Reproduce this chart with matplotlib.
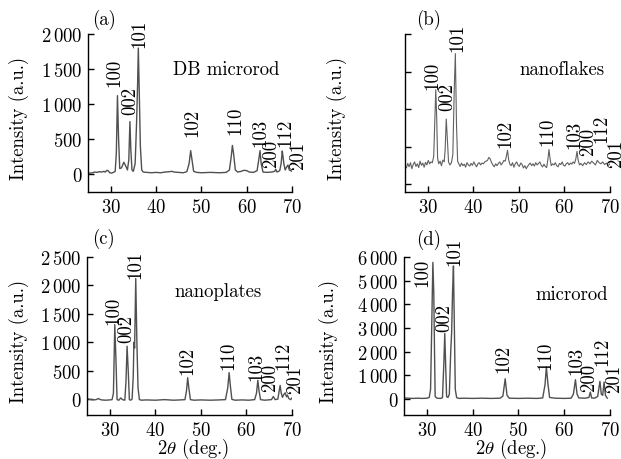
import matplotlib
matplotlib.use("Agg")
import matplotlib.pyplot as plt

plt.rcParams["font.family"] = "serif"
plt.rcParams["font.serif"] = ["cmr10", "DejaVu Serif"]
plt.rcParams["mathtext.fontset"] = "cm"
plt.rcParams["axes.unicode_minus"] = False
plt.rcParams["axes.formatter.use_mathtext"] = True

# (a) DB microrod
two_theta_a = [25.0, 25.5, 26.0, 26.5, 27.0, 27.5, 28.0, 28.5, 28.8, 29.2, 29.5, 29.8, 30.2, 30.6, 31.0,
               31.25, 31.5, 31.75, 32.0, 32.4, 32.9, 33.3, 33.7, 34.0, 34.25, 34.45, 34.7, 35.0, 35.4,
               35.7, 35.95, 36.1, 36.3, 36.55, 36.85, 37.2, 38.0, 39.0, 40.0, 41.0, 42.0, 43.0, 43.5,
               44.0, 45.0, 46.0, 46.8, 47.3, 47.65, 47.95, 48.3, 49.0, 50.0, 52.0, 54.0, 55.5, 56.2,
               56.6, 56.85, 57.1, 57.5, 58.0, 58.8, 59.4, 60.0, 60.6, 61.5, 62.3, 62.7, 62.95, 63.2,
               63.6, 64.5, 65.5, 66.2, 66.4, 66.7, 67.3, 67.6, 67.85, 68.0, 68.2, 68.5, 68.8, 69.1,
               69.4, 69.7, 70.0]
intensity_a = [10, 15, 20, 30, 25, 35, 30, 40, 30, 55, 45, 20, 15, 25, 40,
               300, 1120, 500, 80, 90, 170, 120, 60, 200, 750, 350, 60, 40, 150,
               700, 1300, 1800, 1200, 400, 60, 30, 25, 20, 25, 20, 30, 35, 40,
               30, 25, 20, 35, 150, 335, 200, 40, 25, 20, 25, 20, 25, 60,
               250, 410, 300, 60, 30, 40, 55, 50, 30, 25, 50, 220, 335, 150,
               30, 25, 30, 40, 70, 30, 50, 150, 330, 260, 150, 60, 100, 130,
               60, 50, 40]

# (b) nanoflakes (arbitrary units, no tick labels)
two_theta_b = [25.0, 25.3, 25.6, 25.9, 26.2, 26.5, 26.8, 27.1, 27.4, 27.7, 28.0, 28.3, 28.6, 28.9, 29.2,
               29.5, 29.8, 30.1, 30.4, 30.7,
               31.0, 31.3, 31.5, 31.75, 31.95, 32.15, 32.4, 32.7, 33.0, 33.3, 33.6,
               33.8, 34.05, 34.3, 34.55, 34.85,
               35.2, 35.5, 35.8, 36.05, 36.3, 36.55, 36.8,
               37.1, 37.4, 37.7, 38.0, 38.3, 38.6, 38.9, 39.2, 39.5, 39.8, 40.1, 40.4, 40.7, 41.0,
               41.3, 41.6, 41.9, 42.2, 42.5, 42.8, 43.1, 43.4, 43.7, 44.0, 44.3, 44.6, 44.9, 45.2,
               45.5, 45.8, 46.1, 46.4, 46.7,
               47.0, 47.3, 47.5, 47.75, 48.0,
               48.3, 48.6, 48.9, 49.2, 49.5, 49.8, 50.1, 50.4, 50.7, 51.0, 51.3, 51.6, 51.9, 52.2,
               52.5, 52.8, 53.1, 53.4, 53.7, 54.0, 54.3, 54.6, 54.9, 55.2, 55.5, 55.8, 56.1,
               56.4, 56.6, 56.85, 57.1,
               57.4, 57.7, 58.0, 58.3, 58.6, 58.9, 59.2, 59.5, 59.8, 60.1, 60.4, 60.7, 61.0, 61.3,
               61.6, 61.9, 62.2,
               62.5, 62.75, 63.0, 63.3,
               63.6, 64.0, 64.4, 64.8, 65.2, 65.6, 66.0, 66.4, 66.8, 67.2, 67.6, 68.0, 68.4, 68.8,
               69.2, 69.6, 70.0]
intensity_b = [50, 44, 56, 47, 58, 42, 53, 60, 48, 55, 45, 62, 51, 57, 46,
               59, 52, 64, 55, 60,
               58, 75, 150, 252, 180, 70, 55, 62, 50, 65, 60,
               90, 174, 120, 60, 52,
               58, 80, 250, 348, 160, 62, 55,
               48, 57, 50, 54, 46, 58, 52, 49, 56, 51, 60, 53, 47, 55,
               58, 52, 57, 55, 60, 62, 64, 72, 68, 58, 52, 47, 55, 50,
               56, 60, 52, 57, 64,
               62, 78, 91, 66, 54,
               50, 58, 46, 55, 60, 52, 48, 57, 53, 44, 50, 42, 48, 53,
               57, 50, 55, 49, 58, 52, 56, 60, 51, 47, 54, 48, 45,
               70, 93, 68, 50,
               55, 52, 58, 50, 47, 56, 53, 60, 51, 49, 55, 58, 52, 57,
               54, 60, 56,
               68, 88, 65, 52,
               56, 50, 58, 53, 60, 55, 62, 57, 52, 64, 58, 55, 60, 53,
               57, 50, 55]

# (c) nanoplates
two_theta_c = [25.0, 25.5, 26.0, 26.5, 27.0, 27.5, 27.8, 28.2, 29.0, 30.0, 30.5, 30.8, 31.1, 31.35,
               31.6, 32.0, 32.4, 32.8, 33.3, 33.55, 33.8, 34.05, 34.3, 34.6, 34.9, 35.15, 35.3,
               35.45, 35.7, 35.95, 36.2, 36.5, 37.0, 38.0, 40.0, 42.0, 44.0, 45.5, 46.5, 46.85,
               47.1, 47.35, 47.7, 48.5, 50.0, 52.0, 54.0, 55.4, 55.9, 56.2, 56.45, 56.8, 57.5,
               59.0, 60.5, 61.8, 62.2, 62.5, 62.75, 63.1, 64.0, 65.5, 65.9, 66.3, 66.9, 67.2,
               67.4, 67.6, 67.9, 68.2, 68.5, 68.8, 69.0, 69.3, 69.7, 70.0, 70.3]
intensity_c = [10, -5, -10, -15, -10, 10, -5, -15, -20, -15, -10, 100, 1310, 700,
               -10, -20, 20, -10, -20, 300, 930, 500, -10, -20, 0, 400, 1000,
               900, 2120, 1000, 200, -10, -20, -15, -20, -10, -20, -15, -10, 150,
               375, 200, -10, -20, -15, -20, -15, -10, 200, 465, 250, -5, -20,
               -15, -20, -10, 100, 330, 150, -10, -20, -10, 45, -10, 0, 150,
               240, 120, 30, 80, 110, 40, 70, 10, -10, 20, 40]

# (d) microrod
two_theta_d = [25.0, 26.0, 27.0, 28.0, 29.0, 30.0, 30.5, 30.8, 31.0, 31.3, 31.5, 31.65, 31.8, 32.2,
               33.0, 33.4, 33.7, 33.9, 34.1, 34.3, 34.6, 34.9, 35.2, 35.4, 35.6, 35.8, 36.0, 36.2,
               36.5, 37.0, 38.0, 40.0, 42.0, 44.0, 46.0, 46.6, 47.1, 47.5, 48.0, 50.0, 52.0, 54.0,
               55.3, 55.8, 56.1, 56.4, 56.8, 58.0, 60.0, 61.5, 62.0, 62.45, 62.8, 63.2, 64.5, 65.4,
               65.7, 66.0, 66.6, 67.3, 67.8, 68.1, 68.4, 68.7, 69.0, 69.4]
intensity_d = [40, 30, 20, 30, 20, 30, 60, 400, 2500, 5770, 4500, 2200, 100, 30,
               20, 50, 1500, 2770, 1400, 100, 60, 200, 2000, 2800, 4500, 5620, 3000, 400,
               50, 20, 30, 20, 30, 20, 30, 120, 850, 150, 30, 20, 30, 20,
               40, 600, 1350, 700, 60, 30, 20, 30, 200, 810, 200, 40, 30, 60,
               285, 40, 30, 100, 740, 200, 150, 710, 150, 30]

# Miller index labels: text, 2theta position, intensity at label bottom
hkl = ["100", "002", "101", "102", "110", "103", "200", "112", "201"]
hkl_x_a = [30.9, 34.4, 36.4, 48.1, 57.5, 63.0, 65.5, 68.5, 71.3]
hkl_y_a = [1257, 857, 1814, 547, 571, 404, 96, 404, 71]
hkl_x_b = [30.9, 34.2, 36.4, 47.0, 56.3, 62.2, 65.2, 68.1, 71.3]
hkl_y_b = [255, 198, 355, 100, 105, 96, 78, 114, 47]
hkl_x_c = [30.7, 33.7, 35.6, 47.1, 56.0, 62.1, 65.3, 68.1, 70.7]
hkl_y_c = [1327, 1000, 2130, 434, 523, 332, 136, 523, 107]
hkl_x_d = [29.0, 33.8, 36.1, 46.7, 55.9, 62.6, 65.5, 68.3, 71.0]
hkl_y_d = [4780, 2850, 5680, 1137, 1279, 1066, 354, 1420, 286]

yticks_a = [0, 500, 1000, 1500, 2000]
yticks_b = [0, 100, 200, 300, 400]
yticks_c = [0, 500, 1000, 1500, 2000, 2500]
yticks_d = [0, 1000, 2000, 3000, 4000, 5000, 6000]
xticks = [30, 40, 50, 60, 70]

FS = 13.5
LINE = "#505050"


def fmt(v):
    if v >= 1000:
        return r"$%d\,%03d$" % (v // 1000, v % 1000)
    return r"$%d$" % v


def panel(ax, x, y, ylim, yticks, hx, hy, tag, tag_pos, name, name_pos,
          show_ylabels=True, xlabel=False, ylab_x=-0.29, lw=1.0, color=LINE):
    ax.plot(x, y, color=color, lw=lw)
    ax.set_xlim(25, 70)
    ax.set_ylim(*ylim)
    ax.spines["top"].set_visible(False)
    ax.spines["right"].set_visible(False)
    for s in ("left", "bottom"):
        ax.spines[s].set_linewidth(1.0)
    ax.tick_params(direction="in", length=4, width=1.0, labelsize=FS, pad=4)
    ax.set_xticks(xticks)
    ax.set_xticklabels([fmt(v) for v in xticks])
    ax.set_yticks(yticks)
    if show_ylabels:
        ax.set_yticklabels([fmt(v) for v in yticks])
    else:
        ax.set_yticklabels([])
    ax.set_ylabel("Intensity (a.u.)", fontsize=FS)
    ax.yaxis.set_label_coords(ylab_x, 0.47)
    if xlabel:
        ax.set_xlabel(r"$2\theta$ (deg.)", fontsize=FS)
        ax.xaxis.set_label_coords(0.52, -0.135)
    for t, px, py in zip(hkl, hx, hy):
        ax.text(px, py, t, rotation=90, ha="center", va="bottom",
                fontsize=FS, clip_on=False)
    ax.text(tag_pos[0], tag_pos[1], tag, transform=ax.transAxes,
            ha="center", va="center", fontsize=FS)
    ax.text(name_pos[0], name_pos[1], name, transform=ax.transAxes,
            ha="center", va="center", fontsize=FS)


fig = plt.figure(figsize=(6.21, 4.60), dpi=100)
ax_a = fig.add_axes([0.1417, 0.5804, 0.3285, 0.3435])
ax_b = fig.add_axes([0.6522, 0.5804, 0.3301, 0.3435])
ax_c = fig.add_axes([0.1401, 0.0957, 0.3301, 0.3435])
ax_d = fig.add_axes([0.6506, 0.0957, 0.3317, 0.3435])

panel(ax_a, two_theta_a, intensity_a, (-255, 2000), yticks_a, hkl_x_a, hkl_y_a,
      "(a)", (0.078, 1.095), "DB microrod", (0.68, 0.78), ylab_x=-0.29)
panel(ax_b, two_theta_b, intensity_b, (-20, 400), yticks_b, hkl_x_b, hkl_y_b,
      "(b)", (0.117, 1.095), "nanoflakes", (0.767, 0.78), show_ylabels=False,
      ylab_x=-0.285, lw=0.8, color="#606060")
panel(ax_c, two_theta_c, intensity_c, (-280, 2500), yticks_c, hkl_x_c, hkl_y_c,
      "(c)", (0.08, 1.12), "nanoplates", (0.64, 0.785), xlabel=True, ylab_x=-0.285)
panel(ax_d, two_theta_d, intensity_d, (-680, 6000), yticks_d, hkl_x_d, hkl_y_d,
      "(d)", (0.121, 1.114), "microrod", (0.816, 0.765), xlabel=True, ylab_x=-0.315)

fig.savefig("out.png", dpi=100)
